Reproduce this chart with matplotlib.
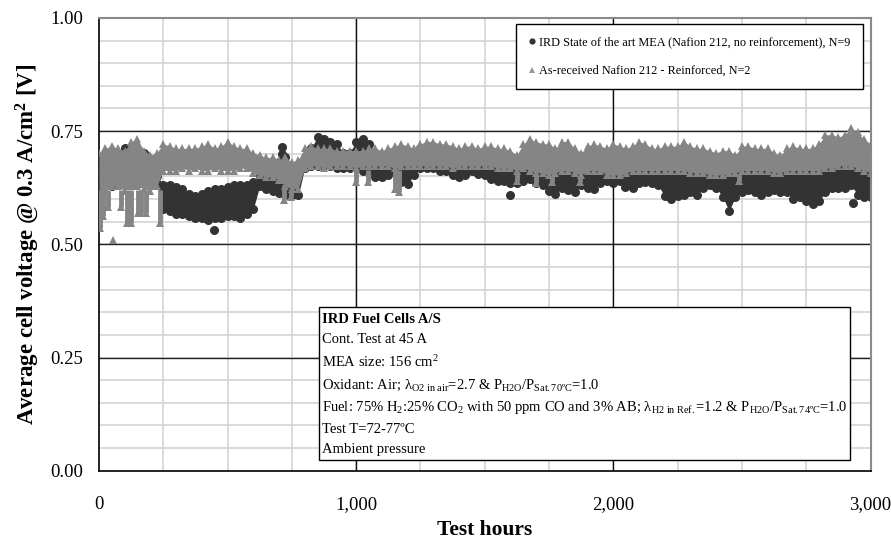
import numpy as np
import matplotlib
matplotlib.use("Agg")
import matplotlib.pyplot as plt
from matplotlib.lines import Line2D
from matplotlib.patches import Rectangle

plt.rcParams["font.family"] = ["Liberation Serif", "DejaVu Serif"]
plt.rcParams["mathtext.fontset"] = "custom"
plt.rcParams["mathtext.rm"] = "Liberation Serif"
plt.rcParams["mathtext.it"] = "Liberation Serif:italic"
plt.rcParams["mathtext.bf"] = "Liberation Serif:bold"

# ── Data (25 h steps, cloud upper / lower edge) ─────────────────────────────
HOURS = list(range(0, 3001, 25))

GRAY_TOP = [
    .702, .712, .717, .712, .707, .727, .732, .707, .697, .702,
    .722, .717, .712, .712, .712, .712, .717, .722, .712, .717,
    .727, .717, .712, .712, .702, .697, .692, .692, .687, .692,
    .682, .687, .712, .717, .712, .712, .712, .707, .707, .707,
    .707, .707, .712, .712, .707, .712, .717, .722, .717, .712,
    .722, .727, .727, .722, .722, .717, .712, .717, .717, .712,
    .717, .717, .712, .712, .707, .697, .722, .732, .727, .722,
    .722, .712, .727, .727, .712, .702, .717, .722, .717, .712,
    .722, .717, .712, .717, .727, .722, .712, .712, .717, .717,
    .717, .727, .717, .712, .712, .707, .702, .707, .707, .697,
    .717, .717, .712, .712, .712, .702, .697, .712, .717, .712,
    .712, .712, .722, .742, .742, .737, .742, .757, .747, .732, .722,
]
GRAY_BOT = [
    .608, .618, .628, .628, .618, .628, .628, .623, .618, .628,
    .663, .663, .663, .668, .663, .668, .663, .663, .668, .663,
    .663, .663, .668, .668, .658, .653, .648, .648, .643, .628,
    .623, .623, .668, .673, .673, .668, .673, .673, .673, .673,
    .668, .673, .673, .673, .673, .673, .668, .673, .673, .673,
    .673, .673, .673, .673, .673, .668, .673, .673, .673, .673,
    .673, .673, .668, .668, .668, .663, .668, .663, .658, .658,
    .653, .658, .663, .663, .658, .653, .663, .663, .663, .653,
    .653, .653, .658, .663, .663, .663, .663, .663, .663, .663,
    .663, .663, .658, .658, .658, .653, .653, .653, .658, .658,
    .663, .663, .663, .663, .663, .658, .658, .663, .663, .663,
    .663, .663, .663, .668, .668, .673, .673, .673, .668, .663, .658,
]
DARK_TOP = [
    .692, .692, .692, .697, .712, .702, .697, .702, .682, .652,
    .632, .632, .627, .622, .612, .607, .612, .617, .622, .622,
    .627, .632, .632, .632, .637, .652, .652, .657, .682, .692,
    .662, .657, .692, .712, .737, .732, .727, .722, .702, .702,
    .727, .732, .722, .702, .697, .692, .692, .692, .692, .692,
    .712, .717, .692, .692, .682, .682, .682, .682, .682, .682,
    .677, .672, .672, .672, .672, .672, .672, .672, .672, .672,
    .672, .672, .672, .672, .672, .672, .672, .672, .672, .672,
    .667, .667, .667, .667, .667, .667, .667, .667, .667, .667,
    .667, .667, .667, .667, .667, .667, .667, .667, .667, .667,
    .667, .667, .667, .667, .667, .667, .667, .667, .667, .667,
    .667, .667, .667, .672, .672, .677, .677, .672, .667, .667, .667,
]
DARK_BOT = [
    .628, .628, .628, .633, .638, .638, .633, .638, .638, .633,
    .578, .573, .568, .568, .563, .558, .558, .553, .558, .558,
    .563, .563, .558, .568, .578, .628, .623, .618, .613, .608,
    .608, .608, .668, .673, .673, .673, .673, .668, .668, .668,
    .668, .663, .663, .648, .648, .653, .663, .638, .633, .653,
    .668, .668, .668, .663, .663, .653, .648, .653, .663, .656,
    .653, .645, .640, .640, .635, .635, .640, .645, .635, .630,
    .618, .612, .625, .620, .616, .630, .625, .622, .635, .640,
    .635, .640, .635, .625, .635, .638, .635, .630, .606, .600,
    .606, .610, .615, .610, .625, .630, .625, .605, .574, .605,
    .615, .620, .615, .610, .615, .620, .615, .615, .600, .605,
    .596, .590, .596, .615, .625, .625, .625, .630, .610, .605, .605,
]

# downward columns of triangles (hour, column top, column bottom)
SPIKE_H = [5, 15, 35, 85, 108, 125, 152, 165, 185, 237, 720, 745,
           1000, 1045, 1150, 1165, 1625, 1700, 1760, 1870, 2490]
SPIKE_TOP = [.62, .62, .62, .62, .62, .62, .62, .62, .62, .62, .63, .62,
             .665, .665, .665, .665, .655, .655, .65, .65, .655]
SPIKE_LOW = [.536, .562, .583, .583, .547, .547, .569, .569, .57, .547, .597, .605,
             .637, .637, .622, .615, .64, .635, .637, .637, .64]
GRAY_OUT_H = [53]
GRAY_OUT_V = [.51]

DARK_OUT_H = [447, 1597, 2044, 2932, 712, 712]
DARK_OUT_V = [.532, .609, .627, .592, .715, .70]

LABEL_IRD = "IRD State of the art MEA (Nafion 212, no reinforcement), N=9"
LABEL_REF = "As-received Nafion 212 - Reinforced, N=2"

DARK = "#333333"
GRAY = "#858585"

fig = plt.figure(figsize=(8.91, 5.43), dpi=100)
ax = fig.add_axes([0.111, 0.133, 0.866, 0.834])

# ── Grid ───────────────────────────────────────────────────────────────────
for v in np.arange(0.05, 1.0, 0.05):
    ax.axhline(v, color="#d4d4d4", lw=1.2, zorder=0)
for h in range(250, 3000, 250):
    ax.axvline(h, color="#d4d4d4", lw=1.2, zorder=0)
for v in [0.25, 0.5, 0.75]:
    ax.axhline(v, color="#222222", lw=1.0, zorder=0.5)
for h in [1000, 2000]:
    ax.axvline(h, color="#111111", lw=1.0, zorder=0.5)

# ── Data clouds ────────────────────────────────────────────────────────────
ax.fill_between(HOURS, DARK_BOT, DARK_TOP, color=DARK, lw=0, zorder=2)
ax.plot(HOURS, DARK_TOP, "o", color=DARK, ms=6.5, mew=0, zorder=2)
ax.plot(HOURS, DARK_BOT, "o", color=DARK, ms=6.5, mew=0, zorder=2)
ax.plot(DARK_OUT_H, DARK_OUT_V, "o", color=DARK, ms=6.5, mew=0, zorder=2)

ax.fill_between(HOURS, GRAY_BOT, GRAY_TOP, color=GRAY, lw=0, zorder=3)
ax.plot(HOURS, GRAY_TOP, "^", color=GRAY, ms=6, mew=0, zorder=3)
ax.plot(HOURS, GRAY_BOT, "^", color=GRAY, ms=6, mew=0, zorder=3)
ax.vlines(SPIKE_H, SPIKE_LOW, SPIKE_TOP, color=GRAY, lw=3.5, zorder=3)
ax.plot(SPIKE_H, SPIKE_LOW, "^", color=GRAY, ms=6, mew=0, zorder=3)
ax.plot(GRAY_OUT_H, GRAY_OUT_V, "^", color=GRAY, ms=6, mew=0, zorder=3)

# ── Axes ───────────────────────────────────────────────────────────────────
ax.set_xlim(0, 3000)
ax.set_ylim(0, 1.0)
ax.set_xticks([0, 1000, 2000, 3000])
ax.set_xticklabels(["0", "1,000", "2,000", "3,000"])
ax.set_yticks([0, 0.25, 0.5, 0.75, 1.0])
ax.set_yticklabels(["0.00", "0.25", "0.50", "0.75", "1.00"])
ax.tick_params(axis="both", length=0, labelsize=13.5)
ax.tick_params(axis="x", pad=18)
ax.tick_params(axis="y", pad=11)
ax.set_xlabel("Test hours", fontsize=15.5, fontweight="bold", labelpad=5)
ax.set_ylabel(r"Average cell voltage @ 0.3 A/cm$^{\mathbf{2}}$ [V]",
              fontsize=16.5, fontweight="bold", labelpad=7)
for s in ["left", "bottom"]:
    ax.spines[s].set_color("black")
    ax.spines[s].set_linewidth(1.2)
for s in ["top", "right"]:
    ax.spines[s].set_color("#8a8a8a")
    ax.spines[s].set_linewidth(1.5)

# ── Legend ─────────────────────────────────────────────────────────────────
handles = [
    Line2D([], [], ls="none", marker="o", color=DARK, ms=4.5, mew=0),
    Line2D([], [], ls="none", marker="^", color="#999999", ms=4, mew=0),
]
leg = ax.legend(handles, [LABEL_IRD, LABEL_REF], loc="upper right",
                bbox_to_anchor=(0.990, 0.987), fontsize=8.8, frameon=True,
                fancybox=False, edgecolor="black", framealpha=1,
                handlelength=0.6, handletextpad=0.3, labelspacing=1.4,
                borderpad=1.0, borderaxespad=0)
leg.get_frame().set_linewidth(1.0)
leg.set_zorder(5)

# ── Test-condition box ─────────────────────────────────────────────────────
ax.add_patch(Rectangle((0.285, 0.024), 0.688, 0.338, transform=ax.transAxes,
                       facecolor="white", edgecolor="black", lw=1.0, zorder=5))
box_lines = [
    "IRD Fuel Cells A/S",
    "Cont. Test at 45 A",
    r"MEA size: 156 cm$^{2}$",
    r"Oxidant: Air; λ$_{\mathrm{O2\ in\ air}}$=2.7 & P$_{\mathrm{H2O}}$/P$_{\mathrm{Sat.70ºC}}$=1.0",
    r"Fuel: 75% H$_{2}$:25% CO$_{2}$ with 50 ppm CO and 3% AB; λ$_{\mathrm{H2\ in\ Ref.}}$=1.2 & P$_{\mathrm{H2O}}$/P$_{\mathrm{Sat.74ºC}}$=1.0",
    "Test T=72-77ºC",
    "Ambient pressure",
]
box_y = [0.334, 0.290, 0.239, 0.188, 0.139, 0.091, 0.047]
for i, (txt, yy) in enumerate(zip(box_lines, box_y)):
    ax.text(0.289, yy, txt, transform=ax.transAxes, fontsize=10.5,
            fontweight="bold" if i == 0 else "normal",
            va="center", ha="left", zorder=6)

fig.savefig("out.png", dpi=100)
